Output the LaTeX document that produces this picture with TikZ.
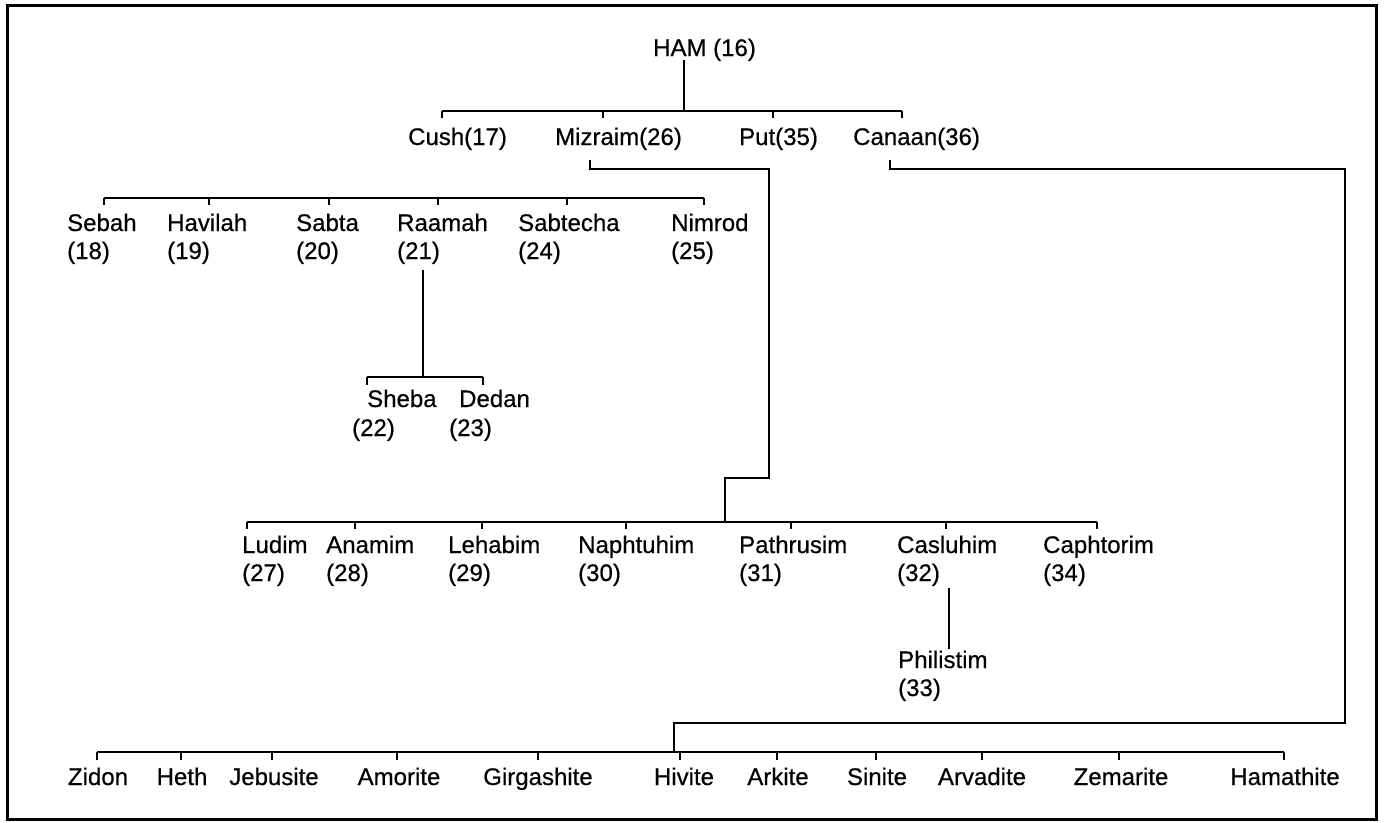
\documentclass[tikz,border=0pt]{standalone}
\usepackage{fontspec}
\setmainfont[FakeBold=0.5]{Liberation Sans}
\begin{document}
\begin{tikzpicture}[x=1pt,y=-1pt,
  lbl/.style={font=\fontsize{24}{28}\selectfont, inner sep=0pt, anchor=base west},
  clbl/.style={lbl, anchor=base},
  conn/.style={line width=2.2pt},
  tick/.style={line width=1.6pt}]
\useasboundingbox (0,0) rectangle (1384,822);
\draw[line width=3pt] (7.5,5.5) rectangle (1376,819.5);

% ---- HAM ----
\node[lbl] (ham) at (653,56) {HAM (16)};
\coordinate (hamD) at (684,60);
\coordinate (b1) at (684,111);
\coordinate (tCush) at (442,111);
\coordinate (tMiz) at (603,111);
\coordinate (tPut) at (773,111);
\coordinate (tCan) at (902,111);
\draw[conn] (hamD) -- (b1);
\draw[conn] (tCush) -- (tCan);
\foreach \c in {tCush,tMiz,tPut,tCan} \draw[tick] (\c) -- ++(0,7);

\node[lbl] (cush) at (408,145) {Cush(17)};
\node[lbl] (miz) at (555,145) {Mizraim(26)};
\node[lbl] (put) at (739,145) {Put(35)};
\node[lbl] (can) at (853,145) {Canaan(36)};

% ---- Cush's sons ----
\coordinate (t18) at (104,198);
\coordinate (t19) at (209,198);
\coordinate (t20) at (329,198);
\coordinate (t21) at (438,198);
\coordinate (t24) at (567,198);
\coordinate (t25) at (704,198);
\draw[conn] (t18) -- (t25);
\foreach \c in {t18,t19,t20,t21,t24,t25} \draw[tick] (\c) -- ++(0,7);

\node[lbl] (sebah) at (67,231) {Sebah};      \node[lbl] (sebahN) at (67,259) {(18)};
\node[lbl] (havilah) at (167,231) {Havilah}; \node[lbl] (havilahN) at (167,259) {(19)};
\node[lbl] (sabta) at (296,231) {Sabta};     \node[lbl] (sabtaN) at (296,259) {(20)};
\node[lbl] (raamah) at (397,231) {Raamah};   \node[lbl] (raamahN) at (397,259) {(21)};
\node[lbl] (sabtecha) at (518,231) {Sabtecha}; \node[lbl] (sabtechaN) at (518,259) {(24)};
\node[lbl] (nimrod) at (671,231) {Nimrod};   \node[lbl] (nimrodN) at (671,259) {(25)};

% ---- Raamah's sons ----
\coordinate (raD) at (423,270);
\coordinate (raB) at (423,377);
\coordinate (t22) at (367,377);
\coordinate (t23) at (483,377);
\draw[conn] (raD) -- (raB);
\draw[conn] (t22) -- (t23);
\foreach \c in {t22,t23} \draw[tick] (\c) -- ++(0,8);
\node[lbl] (sheba) at (367,407) {Sheba};  \node[lbl] (shebaN) at (352,436) {(22)};
\node[lbl] (dedan) at (459,407) {Dedan};  \node[lbl] (dedanN) at (449,436) {(23)};

% ---- Mizraim connector ----
\coordinate (mizD) at (590,160);
\coordinate (mizB) at (725,522);
\draw[conn] (mizD) -- (590,169) -- (769,169) -- (769,478) -- (725,478) -- (mizB);

% ---- Mizraim's sons ----
\coordinate (t27) at (247,522);
\coordinate (t28) at (355,522);
\coordinate (t29) at (482,522);
\coordinate (t30) at (626,522);
\coordinate (t31) at (791,522);
\coordinate (t32) at (946,522);
\coordinate (t34) at (1097,522);
\draw[conn] (t27) -- (t34);
\foreach \c in {t27,t28,t29,t30,t31,t32,t34} \draw[tick] (\c) -- ++(0,7);

\node[lbl] (ludim) at (242,553) {Ludim};        \node[lbl] (ludimN) at (242,581) {(27)};
\node[lbl] (anamim) at (326,553) {Anamim};      \node[lbl] (anamimN) at (326,581) {(28)};
\node[lbl] (lehabim) at (448,553) {Lehabim};    \node[lbl] (lehabimN) at (448,581) {(29)};
\node[lbl] (naph) at (578,553) {Naphtuhim};     \node[lbl] (naphN) at (578,581) {(30)};
\node[lbl] (path) at (739,553) {Pathrusim};     \node[lbl] (pathN) at (739,581) {(31)};
\node[lbl] (casl) at (897,553) {Casluhim};      \node[lbl] (caslN) at (897,581) {(32)};
\node[lbl] (caph) at (1043,553) {Caphtorim};    \node[lbl] (caphN) at (1043,581) {(34)};

% ---- Philistim ----
\coordinate (caD) at (949,588);
\coordinate (phU) at (949,649);
\draw[conn] (caD) -- (phU);
\node[lbl] (phil) at (898,668) {Philistim};     \node[lbl] (philN) at (898,696) {(33)};

% ---- Canaan connector ----
\coordinate (canD) at (890,160);
\coordinate (canB) at (674,752);
\draw[conn] (canD) -- (890,169) -- (1345,169) -- (1345,723) -- (674,723) -- (canB);

% ---- Canaan's sons ----
\coordinate (cZ) at (97,752);
\coordinate (cHe) at (181,752);
\coordinate (cJ) at (272,752);
\coordinate (cAm) at (397,752);
\coordinate (cG) at (538,752);
\coordinate (cHi) at (680,752);
\coordinate (cAk) at (777,752);
\coordinate (cS) at (876,752);
\coordinate (cAv) at (982,752);
\coordinate (cZe) at (1119,752);
\coordinate (cHa) at (1284,752);
\draw[conn] (cZ) -- (cHa);
\foreach \c in {cZ,cHe,cJ,cAm,cG,cHi,cAk,cS,cAv,cZe,cHa} \draw[tick] (\c) -- ++(0,8);

\node[clbl] (zidon) at (98,785) {Zidon};
\node[clbl] (heth) at (182,785) {Heth};
\node[clbl] (jeb) at (274,785) {Jebusite};
\node[clbl] (amo) at (399,785) {Amorite};
\node[clbl] (gir) at (538,785) {Girgashite};
\node[clbl] (hiv) at (684,785) {Hivite};
\node[clbl] (ark) at (778,785) {Arkite};
\node[clbl] (sin) at (877,785) {Sinite};
\node[clbl] (arv) at (982,785) {Arvadite};
\node[clbl] (zem) at (1121,785) {Zemarite};
\node[clbl] (hama) at (1285,785) {Hamathite};
\end{tikzpicture}
\end{document}
